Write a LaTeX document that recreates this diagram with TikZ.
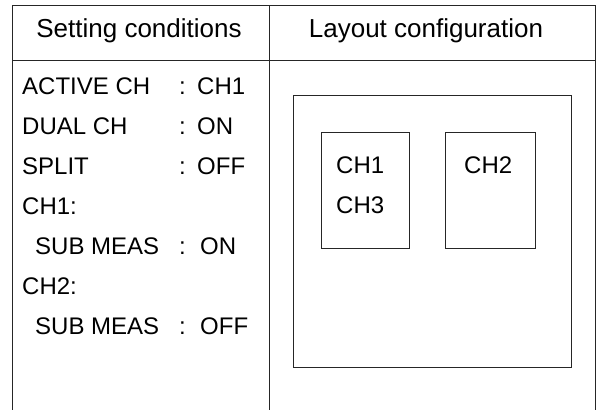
\documentclass[tikz,border=0pt]{standalone}
\usepackage{fontspec}
\setmainfont{Liberation Sans}
\begin{document}
\begin{tikzpicture}[x=1pt,y=-1pt,
  rule/.style={line width=0.8pt,black!85},
  txt/.style={anchor=base west,inner sep=0pt,font=\fontsize{24}{28}\selectfont},
  head/.style={anchor=base,inner sep=0pt,font=\fontsize{26}{30}\selectfont}]
\useasboundingbox (0,0) rectangle (598,410);
% table
\coordinate (tl) at (12,5);
\coordinate (tr) at (595,5);
\coordinate (bl) at (12,410);
\coordinate (br) at (595,410);
\coordinate (ml) at (12,60);
\coordinate (mr) at (595,60);
\coordinate (ct) at (269,5);
\coordinate (cb) at (269,410);
\draw[rule] (bl) -- (tl) -- (tr) -- (br);
\draw[rule] (ml) -- (mr);
\draw[rule] (ct) -- (cb);
% headers
\node[head] (h1) at (139,37) {Setting conditions};
\node[head] (h2) at (426,37) {Layout configuration};
% conditions
\node[txt] (a1) at (22,94) {ACTIVE CH};
\node[txt] (a2) at (179,94) {:};
\node[txt] (a3) at (197,94) {CH1};
\node[txt] (b1) at (22,134) {DUAL CH};
\node[txt] (b2) at (179,134) {:};
\node[txt] (b3) at (197,134) {ON};
\node[txt] (c1) at (22,174) {SPLIT};
\node[txt] (c2) at (179,174) {:};
\node[txt] (c3) at (197,174) {OFF};
\node[txt] (d1) at (22,214) {CH1:};
\node[txt] (e1) at (35,254) {SUB MEAS};
\node[txt] (e2) at (179,254) {:};
\node[txt] (e3) at (200,254) {ON};
\node[txt] (f1) at (22,294) {CH2:};
\node[txt] (g1) at (35,334) {SUB MEAS};
\node[txt] (g2) at (179,334) {:};
\node[txt] (g3) at (200,334) {OFF};
% layout
\draw[rule] (293,95) rectangle (571,367);
\draw[rule] (321,132) rectangle (409,248);
\draw[rule] (445,132) rectangle (535,248);
\node[txt] (k1) at (336,173) {CH1};
\node[txt] (k3) at (336,213) {CH3};
\node[txt] (k2) at (464,173) {CH2};
\end{tikzpicture}
\end{document}
